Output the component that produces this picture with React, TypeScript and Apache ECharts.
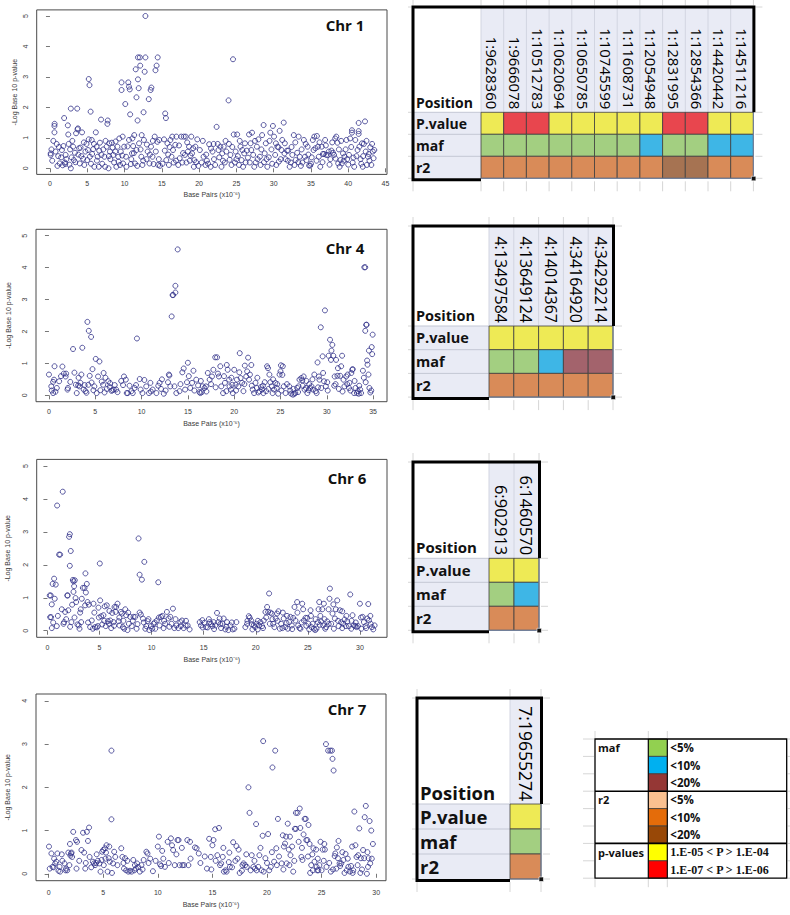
import React, { useEffect, useRef } from 'react';
import * as echarts from 'echarts';

// ---------------- data ----------------
const chr1Points: number[][] = [
  [0.1,0.49],[0.1,0.44],[0.3,0.25],[0.45,0.9],[0.6,1.39],[0.62,1.46],[0.6,1.18],[0.9,0.8],[1.0,0.08],[1.1,0.4],[1.3,0.16],[1.5,0.36],[1.7,0.1],[1.8,0.73],[1.9,1.65],[2.0,0.19],[2.05,0.14],[2.1,0.44],[2.4,1.41],[2.45,1.11],[2.5,0.8],[2.7,0.62],[2.8,1.96],[2.8,0.0],[2.9,0.36],[3.1,0.71],[3.2,0.27],[3.35,0.51],[3.5,1.15],[3.65,1.96],[3.75,1.31],[3.7,1.28],[3.9,0.66],[4.0,0.16],[4.2,0.4],[4.3,1.18],[4.45,0.31],[4.6,0.11],[4.75,0.55],[4.9,0.8],[5.0,0.27],
  [5.2,2.93],[5.3,2.73],[5.2,0.95],[5.35,0.38],[5.45,1.86],[5.6,0.93],[5.65,0.47],[5.8,0.63],[5.95,0.05],[6.15,1.18],[6.25,0.71],[6.4,0.38],[6.55,0.05],[6.7,0.84],[6.85,1.6],[6.9,0.44],[7.15,0.62],[7.3,0.38],[7.4,0.05],[7.6,0.71],[7.7,1.46],[7.75,1.57],[7.85,0.0],[7.95,0.82],[8.05,0.55],[8.1,0.3],[8.3,0.84],[8.5,0.44],[8.6,0.19],[8.75,0.55],[8.9,0.05],[9.05,0.71],[9.15,0.38],[9.3,0.98],[9.4,0.11],[9.5,0.55],[9.6,2.82],[9.6,2.57],[9.75,1.04],[9.8,0.16],[9.95,0.71],[10.1,2.11],
  [10.2,0.38],[10.25,0.05],[10.5,2.82],[10.6,2.68],[10.7,2.59],[10.6,0.93],[10.75,1.77],[10.85,0.14],[11.0,0.49],[11.05,0.98],[11.15,0.73],[11.3,1.09],[11.4,0.16],[11.5,3.25],[11.6,2.33],[11.6,0.6],[11.75,1.57],[11.8,2.92],[11.8,3.64],[11.9,2.63],[11.95,0.82],[12.05,3.64],[12.1,3.37],[12.25,0.38],[12.3,1.09],[12.4,0.11],[12.55,1.84],[12.6,0.93],[12.7,3.17],[12.8,3.64],[12.8,5.0],[12.95,0.3],[13.1,0.55],[13.25,2.27],[13.35,0.16],[13.5,2.57],[13.6,2.65],[13.55,0.71],[13.75,0.38],[13.9,0.14],[14.05,1.04],[14.15,3.22],[14.3,3.37],[14.45,3.64],[14.4,0.87],[14.5,0.11],[14.65,0.93],[14.75,0.08],
  [15.4,0.58],[15.45,1.8],[15.55,1.65],[15.6,0.27],[15.75,0.82],[15.95,0.11],[16.15,0.93],[16.3,0.38],[16.4,1.04],[16.6,0.19],[16.8,0.77],[16.95,1.04],[17.2,0.11],[17.4,0.33],[17.6,1.04],[17.75,0.19],[17.95,1.04],[18.1,0.44],[18.2,1.04],[18.3,0.19],[18.5,0.55],[18.65,0.71],[18.75,0.25],[18.95,1.04],[19.05,0.49],[19.2,0.66],[19.35,0.27],[19.5,0.71],[19.75,0.95],[19.9,0.08],
  [20.35,0.19],[20.6,0.38],[20.85,0.11],[21.05,0.25],[21.35,0.79],[21.55,0.05],[21.8,0.55],[21.95,0.8],[22.15,0.11],[22.35,1.36],[22.5,0.8],[22.7,0.36],[22.85,0.71],[23.0,0.05],[23.1,0.49],[23.3,0.71],[23.45,0.19],[23.65,0.55],[23.95,2.23],[24.0,0.8],[24.2,0.44],[24.35,0.11],[24.55,3.58],[24.65,1.11],[24.8,0.19],[24.9,0.55],
  [25.1,1.11],[25.2,0.4],[25.35,0.11],[25.55,0.71],[25.7,0.27],[25.9,0.05],[26.05,0.49],[26.25,0.19],[26.4,0.58],[26.7,1.11],[26.8,0.19],[26.9,0.82],[27.1,1.17],[27.25,0.44],[27.4,0.05],[27.6,0.19],[27.75,0.71],[27.95,0.95],[28.15,0.38],[28.25,0.11],[28.45,1.09],[28.65,1.42],[28.8,0.49],[28.95,0.82],[29.15,0.05],[29.35,0.36],[29.55,1.17],[29.7,0.62],
  [29.9,1.39],[30.05,1.04],[30.2,0.44],[30.35,0.11],[30.5,0.71],[30.65,0.69],[30.8,1.23],[30.95,0.3],[31.15,0.93],[31.35,1.5],[31.45,0.49],[31.6,0.3],[31.8,0.58],[31.95,0.58],[32.15,0.05],[32.3,0.19],[32.5,0.44],[32.7,1.09],[32.8,0.11],[32.95,0.27],[33.15,0.51],[33.35,1.04],[33.5,0.38],[33.65,0.08],[33.85,0.19],[34.05,0.93],[34.2,0.38],[34.4,0.27],[34.55,0.71],[34.75,0.09],[34.9,0.09],
  [35.1,0.36],[35.25,0.93],[35.45,1.04],[35.6,0.66],[35.8,1.06],[35.95,0.71],[36.05,0.38],[36.25,0.05],[36.45,0.71],[36.6,0.47],[36.75,0.47],[36.9,0.93],[37.05,0.44],[37.25,0.44],[37.4,0.55],[37.6,0.3],[37.75,0.58],[37.95,0.51],[38.1,0.44],[38.25,0.98],[38.4,1.04],[38.55,0.84],[38.65,0.16],[38.85,0.05],[38.95,0.27],[39.15,0.16],[39.3,0.49],
  [39.5,0.38],[39.75,0.93],[39.85,0.3],[40.1,0.44],[40.25,0.98],[40.5,1.25],[40.5,1.17],[40.6,0.19],[40.8,0.05],[40.95,0.93],[41.1,0.4],[41.4,1.49],[41.4,1.22],[41.4,1.13],[41.5,0.71],[41.65,0.3],[41.85,0.82],[41.95,0.05],[42.1,0.8],[42.25,1.54],[42.35,0.55],[42.5,0.11],[42.65,0.38],[42.75,0.47],[42.95,0.69],[43.1,0.11],[43.3,0.55],[43.4,0.33],[43.5,0.6],
  [0.2,0.62],[0.75,0.55],[1.2,0.7],[1.6,0.6],[2.2,0.3],[2.6,0.12],[3.0,0.9],[3.4,0.2],[3.8,0.45],[4.1,0.68],[4.55,0.85],[5.1,0.6],[5.5,0.15],[5.9,0.8],[6.3,0.25],[6.6,0.58],[7.0,0.15],[7.45,0.9],[7.9,0.4],[8.4,0.68],[8.8,0.88],[9.2,0.22],[9.7,0.42],[10.4,0.72],[10.9,0.3],[11.25,0.5],[11.7,0.08],[12.15,0.62],[12.5,0.25],[13.0,0.78],[13.4,0.45],[13.8,0.9],[14.2,0.55],[14.6,0.3],[15.1,0.15],[15.3,0.95],[15.85,0.45],[16.05,0.7],[16.5,0.6],[16.9,0.25],[17.3,0.75],[17.85,0.5],[18.4,0.85],[18.85,0.42],[19.3,0.05],[19.6,0.2],
  [20.1,0.6],[20.5,0.9],[20.95,0.45],[21.2,0.15],[21.6,0.65],[22.0,0.3],[22.6,0.6],[23.2,0.25],[23.55,0.9],[24.1,0.28],[24.45,0.7],[25.0,0.3],[25.45,0.9],[25.8,0.6],[26.15,0.82],[26.55,0.35],[27.0,0.6],[27.5,0.9],[27.85,0.3],[28.35,0.62],[28.7,0.2],[29.05,0.3],[29.45,0.9],[29.8,0.15],[30.3,0.82],[30.7,0.22],[31.05,0.6],[31.5,0.82],[31.9,0.25],[32.4,0.7],[32.9,0.85],[33.3,0.2],[33.75,0.62],[34.3,0.8],[34.65,0.45],[35.0,0.15],[35.35,0.6],[35.75,0.25],[36.15,0.85],[36.55,0.2],[37.0,0.75],[37.5,0.12],[37.85,0.85],[38.3,0.32],[38.75,0.62],[39.05,0.9],[39.4,0.25],[39.65,0.62],[40.0,0.12],[40.4,0.7],[40.7,0.35],[41.25,0.6],[41.75,0.15],[42.0,0.4],[42.45,0.9],[42.85,0.25],[43.2,0.8]
];

const chr4Points: number[][] = [
  [0.0,0.65],[0.25,0.28],[0.45,0.42],[0.55,0.49],[0.45,0.07],[0.7,0.11],[0.85,0.23],[1.1,0.44],[0.6,0.91],[1.45,0.9],[1.6,0.68],[1.85,0.68],[1.8,0.59],[2.0,0.18],[2.05,0.23],[2.6,1.45],[2.75,0.71],[2.9,0.33],[3.0,0.07],[3.15,0.31],[3.3,0.28],[3.4,0.39],[3.5,0.65],[3.6,1.49],[3.75,0.18],[3.85,0.32],[3.95,0.13],[4.05,0.08],[4.15,2.3],[4.25,0.33],[4.3,2.02],[4.4,0.61],[4.55,1.83],[4.7,0.82],[4.8,0.16],[4.9,0.28],
  [5.05,1.14],[5.15,0.07],[5.3,0.59],[5.45,1.06],[5.55,0.16],[5.7,0.43],[5.85,0.33],[6.0,0.09],[6.1,0.55],[6.25,0.2],[6.4,0.44],[6.55,0.26],[6.75,0.14],[6.85,0.16],[7.0,0.18],[7.1,0.32],[7.25,0.18],[8.0,0.32],[8.1,0.59],[8.3,0.49],[8.4,0.07],[8.5,0.07],[8.9,0.13],[9.05,0.07],[9.25,0.23],[9.4,0.32],[9.5,1.78],[9.8,0.51],
  [10.1,0.07],[10.5,0.28],[10.8,0.07],[10.95,0.39],[11.2,0.18],[11.6,0.07],[11.95,0.39],[12.1,0.2],[12.4,0.05],[12.85,0.41],[12.95,0.65],[13.0,0.62],[13.1,0.28],[13.25,2.47],[13.35,3.14],[13.4,3.14],[13.65,3.22],[13.65,3.43],[13.55,0.28],[13.75,0.07],[13.9,4.57],[14.1,0.13],[14.4,0.72],[14.55,0.84],[14.7,0.18],[14.9,0.41],
  [15.0,1.02],[15.25,0.23],[15.45,0.39],[15.6,0.77],[15.9,0.49],[16.1,0.31],[16.25,0.1],[16.35,0.07],[16.5,0.1],[16.6,0.28],[16.8,0.23],[16.95,0.28],[17.15,0.7],[17.35,0.49],[17.6,0.59],[17.75,0.8],[17.95,1.19],[18.15,1.19],[18.25,0.68],[18.35,0.59],[18.5,0.91],[18.6,0.28],[18.8,0.07],[19.0,0.39],[19.15,0.13],[19.3,0.8],[19.45,0.49],[19.5,0.28],[19.65,0.18],[19.8,0.33],[19.85,0.07],
  [20.0,0.8],[20.15,0.33],[20.3,0.49],[20.45,0.28],[20.6,1.32],[20.7,0.54],[20.85,0.39],[21.0,0.13],[21.15,0.93],[21.3,0.59],[21.5,1.18],[21.6,0.49],[21.7,0.65],[21.85,0.95],[22.0,0.18],[22.15,0.07],[22.3,0.39],[22.45,0.23],[22.6,0.09],[22.75,0.13],[22.9,0.26],[23.0,0.18],[23.15,0.07],[23.3,0.41],[23.45,0.13],[23.55,0.91],[23.65,0.85],[23.8,0.65],[23.9,0.41],[24.05,0.28],[24.15,0.07],[24.3,0.18],[24.45,0.39],[24.6,0.23],[24.75,0.05],[24.9,0.65],
  [25.0,0.75],[25.05,0.94],[25.25,0.91],[25.2,0.64],[25.35,0.28],[25.55,0.07],[25.95,0.28],[26.15,0.05],[26.35,0.02],[26.5,0.05],[26.6,0.07],[26.8,0.23],[26.95,0.28],[27.05,0.49],[27.25,0.54],[27.35,0.47],[27.5,0.59],[27.6,0.18],[27.75,0.23],[27.9,0.07],[28.05,0.16],[28.2,0.23],[28.35,0.28],[28.5,0.18],[28.65,0.65],[28.8,0.13],[28.9,0.07],[29.0,1.03],[29.15,0.59],[29.2,0.49],[29.35,2.13],[29.4,0.23],[29.55,1.22],[29.7,0.44],[29.8,2.66],[29.9,0.28],
  [30.05,0.41],[30.2,1.24],[30.35,1.74],[30.45,1.11],[30.5,1.4],[30.6,1.58],[30.7,1.24],[30.85,0.59],[30.95,0.35],[31.0,1.11],[31.15,0.61],[31.3,0.2],[31.45,0.61],[31.55,0.91],[31.65,1.24],[31.8,0.49],[31.9,0.28],[32.1,0.59],[32.25,0.65],[32.4,0.23],[32.45,0.39],[32.65,0.7],[32.75,0.8],[32.8,0.82],[32.95,0.07],[33.1,0.23],[33.25,0.07],[33.35,0.13],[33.45,0.05],[33.5,0.3],[33.7,0.07],[33.9,0.77],
  [34.05,4.01],[34.15,4.01],[34.15,2.02],[34.25,2.21],[34.3,2.21],[34.2,0.41],[34.35,1.09],[34.4,0.96],[34.55,1.4],[34.6,0.23],[34.7,0.09],[34.85,1.51],[34.9,1.29],[34.95,1.9],
  [0.3,0.15],[1.3,0.6],[2.3,0.42],[3.2,0.55],[4.6,0.4],[5.9,0.7],[6.6,0.38],[7.4,0.1],[7.8,0.45],[8.7,0.3],[9.9,0.18],[10.3,0.48],[11.0,0.12],[11.8,0.3],[12.2,0.5],[12.6,0.15],[14.2,0.35],[15.1,0.6],[15.7,0.15],[16.4,0.45],[17.0,0.12],[17.5,0.35],[18.0,0.25],[18.9,0.6],[19.2,0.95],[19.7,0.55],[20.2,0.15],[20.55,0.72],[21.1,0.35],[21.4,0.75],[21.9,0.3],[22.5,0.55],[23.1,0.3],[23.7,0.2],[24.2,0.5],[24.65,0.35],[25.1,0.15],[25.7,0.35],[26.05,0.15],[26.4,0.2],[26.9,0.1],[27.4,0.3],[27.8,0.45],[28.1,0.35],[28.45,0.5],[29.05,0.25],[29.6,0.7],[30.1,0.15],[30.8,0.3],[31.2,0.85],[31.7,0.12],[32.2,0.35],[32.55,0.15],[33.0,0.45],[33.6,0.18],[34.0,0.55],[34.5,0.65],[34.8,0.15]
];

const chr6Points: number[][] = [
  [0.22,1.07],[0.32,1.07],[0.26,0.41],[0.35,0.41],[0.42,0.8],[0.42,0.08],[0.5,1.42],[0.64,1.58],[0.7,0.97],[0.8,1.4],[0.9,0.14],[0.93,3.8],[1.12,2.31],[1.22,2.31],[1.38,0.65],[1.47,4.22],[1.54,0.21],[1.6,0.26],[1.7,0.57],[1.9,1.07],[1.95,1.07],[2.0,0.62],[2.08,2.85],[2.15,2.93],[2.15,1.97],[2.18,0.12],[2.24,2.42],[2.3,0.26],[2.37,0.79],[2.44,1.54],[2.5,1.5],[2.63,1.53],[2.56,1.35],[2.5,1.18],[2.7,0.99],[2.76,0.87],[2.88,0.19],[3.0,0.16],[3.08,0.06],[3.14,0.55],[3.24,0.26],[3.3,0.97],[3.4,1.3],[3.56,1.3],[3.62,0.77],[3.65,1.74],[3.69,1.16],[3.78,1.42],[3.85,0.87],[3.97,0.79],[4.1,0.11],[4.26,0.31],[4.36,0.06],[4.42,0.82],[4.58,0.11],[4.74,0.1],[4.84,0.14],[4.94,0.4],
  [5.03,2.04],[5.06,0.92],[5.16,0.44],[5.26,0.19],[5.38,0.47],[5.5,0.74],[5.6,0.14],[5.7,0.77],[5.8,0.29],[5.9,0.21],[6.03,0.31],[6.12,0.08],[6.22,0.54],[6.35,0.26],[6.44,0.72],[6.54,0.57],[6.6,0.72],[6.73,0.82],[6.83,0.29],[6.92,0.16],[7.05,0.57],[7.15,0.52],[7.24,0.11],[7.37,0.06],[7.47,0.65],[7.56,0.47],[7.69,0.02],[7.82,0.21],[7.95,0.42],[8.1,0.14],[8.27,0.42],[8.43,0.42],[8.56,0.06],[8.75,2.8],[8.85,1.7],[8.85,0.55],[8.97,0.49],[9.07,1.55],[9.17,0.37],[9.3,2.09],[9.4,0.06],[9.49,0.14],[9.62,0.29],[9.78,0.02],[9.94,0.14],
  [10.06,0.06],[10.19,0.21],[10.35,0.06],[10.51,0.31],[10.64,1.47],[10.77,0.16],[10.9,0.42],[11.03,0.45],[11.15,0.08],[11.3,0.21],[11.47,0.57],[11.63,0.37],[11.8,0.42],[11.92,0.21],[12.05,0.67],[12.18,0.08],[12.37,0.16],[12.56,0.08],[12.76,0.26],[12.92,0.31],[13.08,0.08],[13.27,0.16],[13.46,0.16],[13.65,0.04],[14.62,0.26],[14.74,0.16],[14.87,0.32],
  [15.06,0.24],[15.22,0.11],[15.38,0.1],[15.58,0.26],[15.71,0.2],[15.83,0.14],[15.96,0.26],[16.12,0.16],[16.28,0.54],[16.41,0.26],[16.54,0.37],[16.67,0.08],[16.8,0.21],[16.92,0.37],[17.08,0.04],[17.24,0.26],[17.37,0.02],[17.56,0.16],[17.79,0.04],[17.95,0.06],[18.14,0.26],[19.0,0.11],[19.17,0.21],[19.33,0.44],[19.42,0.39],[19.55,0.31],[19.68,0.04],[19.81,0.16],[19.94,0.11],
  [20.06,0.21],[20.19,0.04],[20.32,0.16],[20.45,0.26],[20.61,0.14],[20.77,0.31],[20.93,0.57],[21.09,0.72],[21.19,0.57],[21.28,1.13],[21.35,0.21],[21.41,0.55],[21.54,0.52],[21.67,0.21],[21.79,0.11],[21.92,0.37],[22.05,0.52],[22.18,0.59],[22.31,0.06],[22.44,0.21],[22.56,0.08],[22.69,0.37],[22.85,0.11],[22.95,0.23],[23.08,0.06],[23.21,0.26],[23.33,0.42],[23.46,0.16],[23.59,0.39],[23.72,0.72],[23.81,0.31],[23.97,0.87],[24.07,0.16],[24.2,0.08],[24.29,0.06],[24.46,0.82],[24.55,0.65],[24.62,0.31],[24.78,0.39],[24.94,0.39],
  [25.06,0.21],[25.13,0.04],[25.26,0.62],[25.35,0.11],[25.45,0.21],[25.58,0.06],[25.71,0.02],[25.83,0.06],[25.96,0.26],[26.03,0.65],[26.09,0.87],[26.15,0.18],[26.28,0.28],[26.38,0.65],[26.47,0.16],[26.54,0.82],[26.67,0.06],[26.76,0.11],[26.86,0.28],[26.99,0.65],[27.08,0.97],[27.12,1.28],[27.24,0.21],[27.37,0.52],[27.5,0.06],[27.6,0.37],[27.69,0.65],[27.82,0.92],[27.95,0.14],[28.08,0.62],[28.2,0.26],[28.3,0.59],[28.4,0.21],[28.53,0.34],[28.65,0.14],[28.78,0.28],[28.94,0.14],[29.07,1.1],[29.17,0.06],[29.29,0.47],[29.42,0.16],[29.55,0.14],[29.68,0.11],[29.81,0.14],
  [30.0,0.82],[30.13,0.06],[30.26,0.42],[30.38,0.26],[30.54,0.14],[30.71,0.37],[30.87,0.31],[31.03,0.21],[31.15,0.11],[31.28,0.04],[31.41,0.16],[30.8,0.81],
  [0.55,0.25],[1.0,0.45],[1.8,0.35],[2.6,0.4],[3.2,0.65],[3.9,0.25],[4.5,0.55],[4.9,0.7],[5.45,0.3],[5.95,0.6],[6.4,0.15],[6.9,0.4],[7.3,0.3],[7.75,0.55],[8.2,0.3],[8.65,0.2],[9.25,0.25],[9.7,0.35],[10.3,0.25],[10.7,0.4],[11.2,0.3],[11.7,0.12],[12.3,0.35],[12.8,0.14],[13.3,0.3],[14.9,0.1],[15.5,0.35],[16.0,0.05],[16.6,0.2],[17.2,0.12],[17.7,0.25],[19.2,0.3],[19.6,0.2],[20.2,0.3],[20.7,0.08],[21.0,0.4],[21.6,0.35],[22.1,0.3],[22.6,0.55],[23.0,0.45],[23.5,0.05],[24.0,0.55],[24.4,0.25],[24.85,0.15],[25.3,0.45],[25.75,0.35],[26.2,0.45],[26.6,0.35],[27.0,0.2],[27.45,0.8],[27.9,0.3],[28.3,0.08],[28.7,0.45],[29.2,0.3],[29.6,0.25],[30.1,0.4],[30.6,0.08],[31.0,0.45]
];

const chr7Points: number[][] = [
  [0.03,0.63],[0.1,0.12],[0.25,0.47],[0.35,0.16],[0.45,0.15],[0.6,0.24],[0.7,0.28],[0.8,0.47],[0.9,0.07],[1.0,0.16],[1.05,0.05],[1.25,0.3],[1.45,0.24],[1.55,0.08],[1.6,0.12],[1.7,0.08],[1.8,0.49],[1.95,0.69],[2.0,0.42],[2.05,0.47],[2.1,0.49],[2.15,0.39],[2.25,0.97],[2.5,0.78],[2.6,0.74],[2.55,0.12],[3.15,0.95],[3.25,0.49],[3.35,0.12],[3.4,0.25],[3.5,0.97],[3.6,0.76],[3.7,1.07],[3.75,0.39],[4.05,0.28],[4.15,0.24],[4.25,0.2],[4.35,0.25],[4.5,0.3],[4.65,0.24],[4.75,0.05],[4.85,0.32],[4.9,0.51],
  [5.0,0.55],[5.05,0.2],[5.15,0.59],[5.25,0.49],[5.3,0.66],[5.4,0.05],[5.5,0.36],[5.55,0.63],[5.6,0.28],[5.75,2.85],[5.75,1.26],[5.8,0.02],[5.9,0.24],[6.0,0.51],[6.1,0.39],[6.65,0.59],[6.75,0.39],[6.9,0.12],[7.0,0.36],[7.1,0.08],[7.3,0.05],[7.45,0.07],[7.6,0.05],[7.75,0.32],[7.85,0.08],[8.0,0.12],[8.1,0.24],[8.2,0.16],[8.35,0.05],[8.5,0.2],[8.7,0.32],[8.95,0.51],[9.05,0.47],[9.15,0.25],[9.55,0.06],
  [10.0,0.63],[10.1,0.86],[10.2,0.22],[10.3,0.18],[10.4,0.53],[10.65,0.16],[10.9,0.74],[11.2,0.82],[11.3,0.66],[11.4,0.55],[11.55,0.2],[11.8,0.78],[11.9,0.78],[12.0,0.2],[12.25,0.2],[12.4,0.2],[12.7,0.78],[12.8,0.2],[12.95,0.74],[13.4,0.61],[13.55,0.59],[13.75,0.47],[14.5,0.12],[14.7,0.81],[14.85,0.39],[14.9,0.1],
  [15.0,0.66],[15.1,0.78],[15.25,1.03],[15.45,0.43],[15.6,1.06],[15.7,0.2],[15.8,0.24],[15.95,0.39],[16.05,0.05],[16.2,0.08],[16.3,0.05],[16.5,0.27],[16.55,0.49],[16.6,0.16],[16.9,0.73],[17.1,0.3],[17.2,0.64],[17.4,0.56],[17.5,0.02],[17.7,0.07],[17.75,0.2],[17.85,0.24],[18.0,0.2],[18.15,0.16],[18.3,2.0],[18.4,1.41],[18.5,0.08],[18.6,0.43],[18.75,0.16],[18.9,0.12],[19.0,1.15],[19.05,0.08],[19.2,0.16],[19.3,0.43],[19.5,0.08],[19.65,3.07],[19.6,0.88],[19.7,0.05],[19.85,0.36],
  [20.1,0.92],[20.2,0.08],[20.35,0.16],[20.5,2.46],[20.65,0.28],[20.75,2.85],[20.85,0.59],[20.9,0.2],[21.0,1.27],[21.35,0.24],[21.45,0.89],[21.55,0.63],[21.65,0.7],[21.75,0.86],[21.8,0.24],[21.9,1.16],[22.0,0.56],[22.1,0.86],[22.15,0.43],[22.3,0.63],[22.4,0.05],[22.55,1.04],[22.65,1.04],[22.65,1.41],[22.8,1.41],[22.9,0.74],[23.0,1.51],[23.05,1.06],[23.15,0.39],[23.25,0.32],[23.35,0.91],[23.45,1.27],[23.55,1.27],[23.6,0.78],[23.7,0.78],[23.8,1.13],[23.9,0.69],[23.95,0.02],[24.05,0.2],[24.2,0.08],[24.25,0.59],[24.35,0.28],[24.5,0.56],[24.55,0.16],[24.6,0.08],[24.7,0.08],[24.8,0.2],[24.9,0.74],
  [25.0,0.08],[25.1,0.56],[25.25,0.69],[25.3,0.56],[25.4,3.0],[25.45,0.16],[25.6,2.85],[25.8,2.85],[25.85,0.05],[25.95,2.85],[26.0,2.66],[26.1,2.39],[26.2,0.41],[26.25,0.47],[26.35,0.12],[26.4,0.61],[26.5,0.36],[26.55,0.76],[26.65,0.24],[26.7,0.18],[26.8,0.24],[27.0,0.32],[27.1,0.02],[27.2,0.46],[27.3,0.08],[27.45,0.16],[27.6,0.05],[27.7,0.18],[27.8,0.63],[27.85,0.02],[27.9,0.08],
  [28.0,1.44],[28.1,0.66],[28.2,0.39],[28.35,0.43],[28.45,1.05],[28.55,0.02],[28.6,0.36],[28.8,0.55],[28.9,0.36],[28.95,1.31],[29.05,1.57],[29.15,0.0],[29.25,0.16],[29.3,0.36],[29.4,1.22],[29.45,0.24],[29.55,1.0],[29.7,0.69],
  [0.5,0.35],[1.2,0.45],[1.9,0.2],[2.8,0.3],[3.0,0.55],[3.9,0.15],[4.4,0.45],[5.2,0.35],[6.3,0.2],[6.85,0.25],[7.2,0.3],[7.9,0.2],[8.6,0.1],[9.3,0.35],[9.8,0.3],[10.5,0.35],[11.0,0.25],[11.7,0.45],[12.2,0.6],[13.0,0.35],[13.9,0.25],[14.3,0.4],[15.3,0.3],[16.0,0.6],[16.8,0.15],[17.3,0.35],[18.1,0.45],[18.85,0.3],[19.4,0.6],[20.0,0.25],[20.45,0.5],[21.1,0.4],[21.5,0.1],[22.05,0.2],[22.5,0.3],[23.2,0.6],[23.75,0.4],[24.15,0.45],[24.65,0.35],[25.2,0.3],[25.7,0.25],[26.05,0.1],[26.9,0.5],[27.4,0.35],[28.3,0.2],[28.7,0.1],[29.2,0.5],[29.6,0.35]
];

const chr1XTicks = [0, 5, 10, 15, 20, 25, 30, 35, 40, 45];
const chr4XTicks = [0, 5, 10, 15, 20, 25, 30, 35];
const chr6XTicks = [0, 5, 10, 15, 20, 25, 30];
const chr7XTicks = [0, 5, 10, 15, 20, 25, 30];
const yTicksTo5 = [0, 1, 2, 3, 4, 5];
const yTicksTo4 = [0, 1, 2, 3, 4];

const plotTitles = ['Chr 1', 'Chr 4', 'Chr 6', 'Chr 7'];
const xAxisTitle = 'Base Pairs (x10\u207B\u2076)';
const yAxisTitle = '-Log Base 10 p-value';

const headerLabel = 'Position';
const rowLabels = ['P.value', 'maf', 'r2'];

const chr1Snps = ['1:9628360', '1:9666078', '1:10512783', '1:10620694', '1:10650785', '1:10745599', '1:11608731', '1:12054948', '1:12831995', '1:12854366', '1:14420442', '1:14511216'];
const chr1PValue = ['1e-5', '1e-7', '1e-7', '1e-5', '1e-5', '1e-5', '1e-5', '1e-5', '1e-7', '1e-7', '1e-5', '1e-5'];
const chr1Maf = ['<5%', '<5%', '<5%', '<5%', '<5%', '<5%', '<5%', '<10%', '<5%', '<5%', '<10%', '<10%'];
const chr1R2 = ['<10%', '<10%', '<10%', '<10%', '<10%', '<10%', '<10%', '<10%', '<20%', '<20%', '<10%', '<10%'];

const chr4Snps = ['4:13497584', '4:13649124', '4:14014367', '4:34164920', '4:34292214'];
const chr4PValue = ['1e-5', '1e-5', '1e-5', '1e-5', '1e-5'];
const chr4Maf = ['<5%', '<5%', '<10%', '<20%', '<20%'];
const chr4R2 = ['<10%', '<10%', '<10%', '<10%', '<10%'];

const chr6Snps = ['6:902913', '6:1460570'];
const chr6PValue = ['1e-5', '1e-5'];
const chr6Maf = ['<5%', '<10%'];
const chr6R2 = ['<10%', '<10%'];

const chr7Snps = ['7:19655274'];
const chr7PValue = ['1e-5'];
const chr7Maf = ['<5%'];
const chr7R2 = ['<10%'];

const legendGroups = ['maf', '', '', 'r2', '', '', 'p-values', ''];
const legendLabels = ['<5%', '<10%', '<20%', '<5%', '<10%', '<20%', '1.E-05 < P > 1.E-04', '1.E-07 < P > 1.E-06'];
const legendColors = ['#92d050', '#00b0f0', '#953735', '#fac090', '#e46c0a', '#984807', '#ffff00', '#ff0000'];

// table colours (as shown in the screenshots of the tables)
const pValueColors: Record<string, string> = { '1e-5': '#eeea55', '1e-7': '#e8464e' };
const mafColors: Record<string, string> = { '<5%': '#a3cf81', '<10%': '#3eb6e6', '<20%': '#a3636c' };
const r2Colors: Record<string, string> = { '<10%': '#d98b58', '<20%': '#a67352' };

// ---------------- layout ----------------
const SANS = '"Liberation Sans", Arial, sans-serif';
const CAL = '"Open Sans", "Noto Sans", sans-serif';
const LAV = '#e9ebf5';
const GRIDLINE = '#d6d6d6';

const plotLayouts = [
  { left: 36.7, top: 9.9, width: 350.3, height: 164.5, xMin: -1.78, xMax: 45.2, yMin: -0.2, yMax: 5.2, lm: 6, ngx: 17, yNameX: 14.3, tx: 345, ty: 25 },
  { left: 36, top: 229.3, width: 351, height: 172.4, xMin: -1.4, xMax: 36.5, yMin: -0.2, yMax: 5.2, lm: 6.5, ngx: 18, yNameX: 8.3, tx: 345, ty: 247.7 },
  { left: 36.7, top: 459.4, width: 350.3, height: 177.9, xMin: -1.03, xMax: 32.6, yMin: -0.2, yMax: 5.2, lm: 7, ngx: 19, yNameX: 7.5, tx: 347, ty: 478.3 },
  { left: 36, top: 694, width: 350, height: 186.7, xMin: -1.16, xMax: 30.9, yMin: -0.16, yMax: 4.16, lm: 8, ngx: 20, yNameX: 7, tx: 347, ty: 709 },
];

const tableLayouts = [
  { left: 413, top: 7, labelW: 68, headerH: 105.3, colW: 22.7, rowH: 22, headFont: 15, rowFont: 14 },
  { left: 413, top: 226, labelW: 76, headerH: 100, colW: 24.8, rowH: 23.7, headFont: 16, rowFont: 14.5 },
  { left: 413, top: 462, labelW: 76, headerH: 96.3, colW: 25, rowH: 24, headFont: 16.5, rowFont: 15 },
  { left: 417, top: 698, labelW: 93, headerH: 106, colW: 31, rowH: 25, headFont: 17.5, rowFont: 18.5 },
];

const legendLayout = { left: 595, top: 739, labelW: 53.3, swatchW: 19, textW: 119.4, rowH: 17.4 };

function line(x1: number, y1: number, x2: number, y2: number, stroke: string, lineWidth = 1, z = 10) {
  return { type: 'line', z, silent: true, shape: { x1, y1, x2, y2 }, style: { stroke, lineWidth } };
}

function makeCellRender(colors: string[]) {
  return (params: any, api: any) => {
    const c = api.coord([api.value(0), api.value(1)]);
    const s = api.size([1, 1]);
    return {
      type: 'rect',
      shape: { x: c[0] - s[0] / 2, y: c[1] - s[1] / 2, width: s[0], height: s[1] },
      style: { fill: colors[params.dataIndex], stroke: '#3f3f3f', lineWidth: 0.8 },
    };
  };
}

function buildOption() {
  const grid: any[] = [];
  const xAxis: any[] = [];
  const yAxis: any[] = [];
  const series: any[] = [];
  const graphic: any[] = [];

  const plots = [
    { pts: chr1Points, xt: chr1XTicks, yt: yTicksTo5 },
    { pts: chr4Points, xt: chr4XTicks, yt: yTicksTo5 },
    { pts: chr6Points, xt: chr6XTicks, yt: yTicksTo5 },
    { pts: chr7Points, xt: chr7XTicks, yt: yTicksTo4 },
  ];

  plots.forEach((p, i) => {
    const L = plotLayouts[i];
    const gi = grid.length;
    grid.push({
      left: L.left, top: L.top, width: L.width, height: L.height,
      show: true, borderColor: '#4a4a4a', borderWidth: 1, backgroundColor: 'rgba(0,0,0,0)',
      containLabel: false, outerBoundsMode: 'none',
    });
    const xi = xAxis.length;
    xAxis.push({
      gridIndex: gi, type: 'value', min: L.xMin, max: L.xMax,
      axisLine: { show: false }, splitLine: { show: false },
      axisTick: { show: true, length: 4, customValues: p.xt, lineStyle: { color: '#555', width: 0.8 } },
      axisLabel: { customValues: p.xt, fontSize: 7, color: '#3a3a3a', margin: L.lm, fontFamily: SANS },
      name: xAxisTitle, nameLocation: 'middle', nameGap: L.ngx, nameMoveOverlap: false,
      nameTextStyle: { fontSize: 7, color: '#3a3a3a', fontFamily: SANS },
    });
    const yi = yAxis.length;
    yAxis.push({
      gridIndex: gi, type: 'value', min: L.yMin, max: L.yMax,
      axisLine: { show: false }, splitLine: { show: false },
      axisTick: { show: true, length: 4, customValues: p.yt, lineStyle: { color: '#555', width: 0.8 } },
      axisLabel: { customValues: p.yt, fontSize: 7, color: '#3a3a3a', margin: 8, rotate: 90, fontFamily: SANS },
    });
    series.push({
      type: 'scatter', xAxisIndex: xi, yAxisIndex: yi, data: p.pts, silent: true,
      symbol: 'circle', symbolSize: 5,
      itemStyle: { color: 'rgba(0,0,0,0)', borderColor: '#2f2f88', borderWidth: 1 },
      z: 3,
    });
    graphic.push({
      type: 'text', x: L.yNameX, y: L.top + L.height / 2, rotation: Math.PI / 2, z: 30, silent: true,
      style: { text: yAxisTitle, font: `7px ${SANS}`, fill: '#3a3a3a', align: 'center', verticalAlign: 'middle', textAlign: 'center', textVerticalAlign: 'middle' },
    });
    graphic.push({
      type: 'text', x: L.tx, y: L.ty, z: 30, silent: true,
      style: { text: plotTitles[i], font: `bold 15px ${CAL}`, fill: '#111', align: 'center', verticalAlign: 'middle', textAlign: 'center', textVerticalAlign: 'middle' },
    });
  });

  const tables = [
    { snps: chr1Snps, p: chr1PValue, maf: chr1Maf, r2: chr1R2 },
    { snps: chr4Snps, p: chr4PValue, maf: chr4Maf, r2: chr4R2 },
    { snps: chr6Snps, p: chr6PValue, maf: chr6Maf, r2: chr6R2 },
    { snps: chr7Snps, p: chr7PValue, maf: chr7Maf, r2: chr7R2 },
  ];

  tables.forEach((t, i) => {
    const T = tableLayouts[i];
    const n = t.snps.length;
    const gL = T.left + T.labelW;
    const gT = T.top + T.headerH;
    const gW = n * T.colW;
    const gH = rowLabels.length * T.rowH;
    const R = gL + gW;
    const B = gT + gH;
    const gi = grid.length;
    grid.push({ left: gL, top: gT, width: gW, height: gH, show: false, containLabel: false, outerBoundsMode: 'none' });
    const xi = xAxis.length;
    xAxis.push({
      gridIndex: gi, type: 'category', position: 'top', data: t.snps,
      axisLine: { show: false }, axisTick: { show: false }, splitLine: { show: false },
      axisLabel: { interval: 0, rotate: 90, margin: 3, fontSize: T.headFont, fontFamily: CAL, color: '#000' },
    });
    const yi = yAxis.length;
    yAxis.push({
      gridIndex: gi, type: 'category', inverse: true, data: rowLabels,
      axisLine: { show: false }, axisTick: { show: false }, splitLine: { show: false },
      axisLabel: { interval: 0, align: 'left', margin: T.labelW - 3, fontSize: T.rowFont, fontWeight: 'bold', fontFamily: CAL, color: '#111' },
    });
    const cells: number[][] = [];
    const colors: string[] = [];
    for (let c = 0; c < n; c++) {
      cells.push([c, 0]); colors.push(pValueColors[t.p[c]]);
      cells.push([c, 1]); colors.push(mafColors[t.maf[c]]);
      cells.push([c, 2]); colors.push(r2Colors[t.r2[c]]);
    }
    series.push({
      type: 'custom', xAxisIndex: xi, yAxisIndex: yi, data: cells, silent: true,
      renderItem: makeCellRender(colors), z: 2,
    });

    graphic.push({ type: 'rect', z: -10, silent: true, shape: { x: gL, y: T.top, width: gW, height: T.headerH }, style: { fill: LAV } });
    graphic.push({ type: 'rect', z: -10, silent: true, shape: { x: T.left, y: gT, width: T.labelW, height: gH }, style: { fill: LAV } });
    for (let k = 0; k <= n; k++) {
      const x = gL + k * T.colW;
      graphic.push(line(x, T.top, x, gT, '#d2d5e1', 1, -5));
    }
    for (let r = 0; r < rowLabels.length; r++) {
      const y = gT + r * T.rowH;
      graphic.push(line(T.left, y, gL, y, '#c3c7d4', 1, -5));
    }
    graphic.push({
      type: 'text', x: T.left + 3, y: gT - T.rowH / 2 + 1, z: 30, silent: true,
      style: { text: headerLabel, font: `bold ${T.rowFont}px ${CAL}`, fill: '#111', align: 'left', verticalAlign: 'middle', textAlign: 'left', textVerticalAlign: 'middle' },
    });
    const xs = [T.left, gL];
    for (let k = 1; k <= n; k++) xs.push(gL + k * T.colW);
    xs.forEach((x) => {
      graphic.push(line(x, T.top - 9, x, T.top - 1.5, GRIDLINE, 1, -8));
      graphic.push(line(x, B + 3, x, B + 13, GRIDLINE, 1, -8));
    });
    const ys = [T.top, gT, gT + T.rowH, gT + 2 * T.rowH, B];
    ys.forEach((y) => {
      graphic.push(line(R + 2, y, R + 9, y, GRIDLINE, 1, -8));
      graphic.push(line(T.left - 5, y, T.left - 1.5, y, GRIDLINE, 1, -8));
    });
    graphic.push({ type: 'polyline', z: 20, silent: true, shape: { points: [[R, gT], [R, B], [gL, B]] }, style: { stroke: '#72809a', lineWidth: 1.2, fill: 'none' } });
    graphic.push({
      type: 'polyline', z: 25, silent: true,
      shape: { points: [[gL, B + 1.5], [T.left, B + 1.5], [T.left, T.top], [R + 0.5, T.top], [R + 0.5, gT]] },
      style: { stroke: '#000', lineWidth: 3, fill: 'none', lineJoin: 'miter' },
    });
    graphic.push({ type: 'rect', z: 26, silent: true, shape: { x: R - 2, y: B - 2, width: 4.5, height: 4.5 }, style: { fill: '#111', stroke: '#fff', lineWidth: 0.6 } });
  });

  // legend table
  const G = legendLayout;
  const sx = G.left + G.labelW;
  const nRows = legendLabels.length;
  const lH = nRows * G.rowH;
  const lR = sx + G.swatchW + G.textW;
  const lgi = grid.length;
  grid.push({ left: sx, top: G.top, width: G.swatchW, height: lH, show: false, containLabel: false, outerBoundsMode: 'none' });
  const lxi = xAxis.length;
  xAxis.push({ gridIndex: lgi, type: 'category', data: ['swatch'], show: false });
  const rowIds = legendLabels.map((_, i) => String(i));
  const lyi = yAxis.length;
  yAxis.push({
    gridIndex: lgi, type: 'category', inverse: true, data: rowIds, position: 'left',
    axisLine: { show: false }, axisTick: { show: false }, splitLine: { show: false },
    axisLabel: {
      interval: 0, align: 'left', margin: G.labelW - 3, fontSize: 11, fontWeight: 'bold', fontFamily: CAL, color: '#111',
      formatter: (_v: string, idx: number) => legendGroups[idx],
    },
  });
  yAxis.push({
    gridIndex: lgi, type: 'category', inverse: true, data: rowIds, position: 'right',
    axisLine: { show: false }, axisTick: { show: false }, splitLine: { show: false },
    axisLabel: {
      interval: 0, align: 'left', margin: 3,
      formatter: (_v: string, idx: number) => (idx >= 6 ? `{t|${legendLabels[idx]}}` : `{s|${legendLabels[idx]}}`),
      rich: {
        s: { fontFamily: CAL, fontWeight: 'bold', fontSize: 11.5, color: '#111' },
        t: { fontFamily: '"Liberation Serif", "Times New Roman", serif', fontWeight: 'bold', fontSize: 12, color: '#111' },
      },
    },
  });
  series.push({
    type: 'custom', xAxisIndex: lxi, yAxisIndex: lyi, silent: true,
    data: legendColors.map((_, r) => [0, r]),
    renderItem: makeCellRender(legendColors), z: 2,
  });
  for (let r = 1; r < nRows; r++) {
    const y = G.top + r * G.rowH;
    if (r === 3 || r === 6) graphic.push(line(G.left, y, lR, y, '#000', 1.6, 20));
  }
  graphic.push(line(sx, G.top, sx, G.top + lH, '#000', 1, 20));
  graphic.push(line(sx + G.swatchW, G.top, sx + G.swatchW, G.top + lH, '#000', 1, 20));
  graphic.push({ type: 'rect', z: 21, silent: true, shape: { x: G.left, y: G.top, width: lR - G.left, height: lH }, style: { fill: 'none', stroke: '#000', lineWidth: 1.3 } });
  [G.left, sx, sx + G.swatchW].forEach((x) => {
    graphic.push(line(x, G.top - 8, x, G.top - 1, GRIDLINE, 1, -8));
    graphic.push(line(x, G.top + lH + 1, x, G.top + lH + 9, GRIDLINE, 1, -8));
  });
  for (let r = 0; r <= nRows; r++) {
    const y = G.top + r * G.rowH;
    graphic.push(line(G.left - 12, y, G.left - 1, y, GRIDLINE, 1, -8));
    graphic.push(line(lR + 1, y, 790, y, GRIDLINE, 1, -8));
  }

  return {
    animation: false,
    backgroundColor: '#ffffff',
    grid, xAxis, yAxis, series, graphic,
  };
}

export default function App() {
  const ref = useRef<HTMLDivElement>(null);
  useEffect(() => {
    if (!ref.current) return;
    const chart = echarts.init(ref.current, null, { renderer: 'svg' });
    chart.setOption(buildOption() as any);
    return () => chart.dispose();
  }, []);
  return (
    <div
      ref={ref}
      style={{ position: 'absolute', left: 0, top: 0, width: 790, height: 915, background: '#fff' }}
    />
  );
}
